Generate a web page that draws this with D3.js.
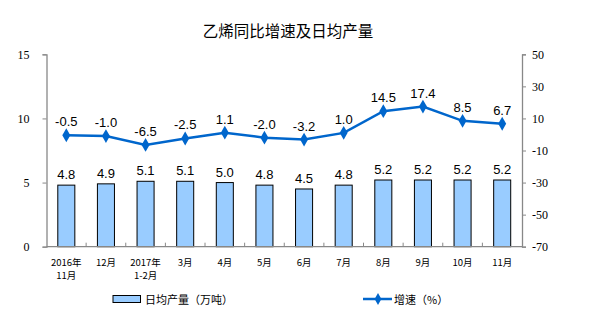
<!DOCTYPE html>
<html><head><meta charset="utf-8">
<script src="https://cdn.jsdelivr.net/npm/d3@7"></script>
<style>body{margin:0;background:#fff}svg{display:block;font-family:"Liberation Sans",Arial,sans-serif}</style>
</head><body>
<svg id="c" width="589" height="327"></svg>
<script>
const categories = ["2016年|11月","12月","2017年|1-2月","3月","4月","5月","6月","7月","8月","9月","10月","11月"];
const output = [4.8,4.9,5.1,5.1,5.0,4.8,4.5,4.8,5.2,5.2,5.2,5.2];
const growth = [-0.5,-1.0,-6.5,-2.5,1.1,-2.0,-3.2,1.0,14.5,17.4,8.5,6.7];
const leftTicks = [0,5,10,15];
const rightTicks = [-70,-50,-30,-10,10,30,50];

const svg = d3.select("#c");
const L=46.5, R=522, T=54.3, B=246.7;
const x = d3.scaleBand().domain(categories).range([L,R]).paddingInner(0.57).paddingOuter(0.285);
const xo = d3.scaleBand().domain(categories).range([L,R]);
const yL = d3.scaleLinear().domain([0,15]).range([B,T]);
const yR = d3.scaleLinear().domain([-70,50]).range([B,T]);

svg.append("text").attr("x",288).attr("y",37).attr("text-anchor","middle")
  .attr("font-family","'Noto Sans CJK SC'").attr("font-size",15.5).attr("fill","#000").text("乙烯同比增速及日均产量");

// bars
svg.selectAll("rect.bar").data(output).join("rect").attr("class","bar")
  .attr("x",(d,i)=>x(categories[i])).attr("width",x.bandwidth())
  .attr("y",d=>yL(d)).attr("height",d=>B-yL(d))
  .attr("fill","#99CCFF").attr("stroke","#000").attr("stroke-width",1);
svg.selectAll("text.bl").data(output).join("text").attr("class","bl")
  .attr("x",(d,i)=>x(categories[i])+x.bandwidth()/2).attr("y",d=>yL(d)-6)
  .attr("text-anchor","middle").attr("font-size",13).text(d=>d.toFixed(1));

// axes
const axL = svg.append("g").attr("transform",`translate(${L},0)`)
  .call(d3.axisLeft(yL).tickValues(leftTicks).tickSize(4).tickPadding(13).tickFormat(d=>String(d)));
const axR = svg.append("g").attr("transform",`translate(${R},0)`)
  .call(d3.axisRight(yR).tickValues(rightTicks).tickSize(4).tickPadding(6).tickFormat(d=>String(d)));
[axL,axR].forEach(a=>{a.select(".domain").attr("stroke","#888").attr("stroke-width",1.3);
  a.selectAll(".tick line").attr("stroke","#888");
  a.selectAll("text").attr("font-size",12).attr("fill","#000").attr("font-family","'Liberation Serif',serif");});
const axB = svg.append("g").attr("transform",`translate(0,${B})`);
axB.append("line").attr("x1",L).attr("x2",R).attr("stroke","#888").attr("stroke-width",1.3);
axB.selectAll("line.t").data(categories.slice(1)).join("line").attr("class","t")
  .attr("x1",d=>xo(d)).attr("x2",d=>xo(d)).attr("y1",0).attr("y2",-4).attr("stroke","#888");
axB.selectAll("text").data(categories).join("text")
  .attr("x",d=>xo(d)+xo.bandwidth()/2).attr("text-anchor","middle")
  .attr("font-family","'Noto Sans CJK SC'").attr("font-size",9.5).attr("fill","#000")
  .each(function(d){const parts=d.split("|");const t=d3.select(this);
    parts.forEach((p,j)=>t.append("tspan").attr("x",xo(d)+xo.bandwidth()/2).attr("y",j*13+19).text(p));});

// line
const cx = (d,i)=>xo(categories[i])+xo.bandwidth()/2;
svg.append("path").datum(growth).attr("fill","none").attr("stroke","#0066CC").attr("stroke-width",2.5)
  .attr("d",d3.line().x(cx).y(d=>yR(d)));
const diamond = d3.symbol().type(d3.symbolDiamond).size(55);
svg.selectAll("path.m").data(growth).join("path").attr("class","m").attr("d",diamond)
  .attr("transform",(d,i)=>`translate(${cx(d,i)},${yR(d)})`).attr("fill","#0066CC");
svg.selectAll("text.ll").data(growth).join("text").attr("class","ll")
  .attr("x",(d,i)=>cx(d,i)).attr("y",d=>yR(d)-9).attr("text-anchor","middle")
  .attr("font-size",13).text(d=>d.toFixed(1));

// legend
const lg = svg.append("g").attr("font-family","'Noto Sans CJK SC'").attr("font-size",11);
lg.append("rect").attr("x",113).attr("y",295.5).attr("width",27.5).attr("height",7).attr("fill","#99CCFF").attr("stroke","#000");
lg.append("text").attr("x",145).attr("y",303.5).text("日均产量（万吨）");
lg.append("line").attr("x1",363).attr("x2",392).attr("y1",299).attr("y2",299).attr("stroke","#0066CC").attr("stroke-width",2.5);
lg.append("path").attr("d",d3.symbol().type(d3.symbolDiamond).size(40)).attr("transform","translate(378,299)").attr("fill","#0066CC");
lg.append("text").attr("x",394).attr("y",303.5).text("增速（%）");
</script>
</body></html>
